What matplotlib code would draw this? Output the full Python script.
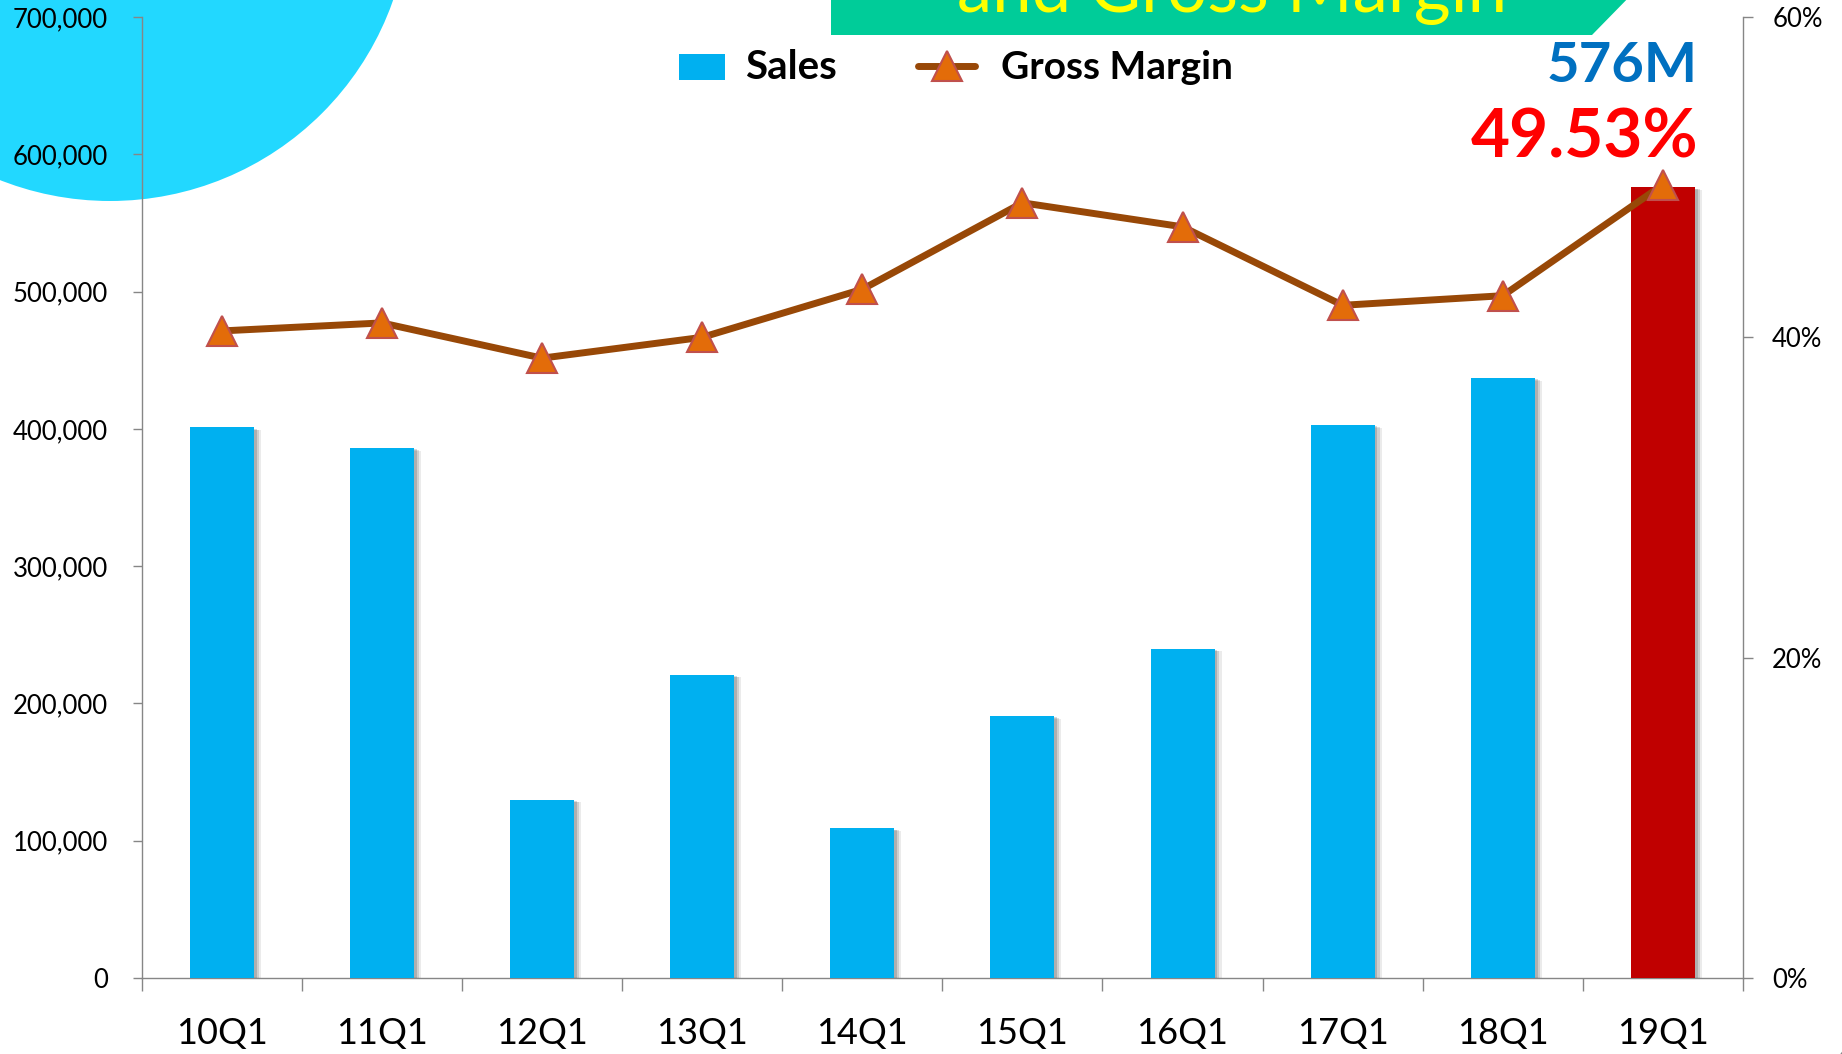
import matplotlib
matplotlib.use("Agg")
import matplotlib.pyplot as plt
from matplotlib.patches import Ellipse, Polygon, Rectangle
from matplotlib.lines import Line2D
import matplotlib.patheffects as pe
from matplotlib.ticker import FuncFormatter, FixedLocator

# ---------------- data ----------------
quarters = ["10Q1", "11Q1", "12Q1", "13Q1", "14Q1", "15Q1", "16Q1", "17Q1", "18Q1", "19Q1"]
sales = [401000, 386000, 130000, 221000, 109000, 191000, 240000, 403000, 437000, 576000]
gross_margin = [40.4, 40.9, 38.7, 40.0, 43.0, 48.4, 46.9, 42.0, 42.6, 49.53]
sales_ticks = [0, 100000, 200000, 300000, 400000, 500000, 600000, 700000]
gm_ticks = [0, 20, 40, 60]
title_text = "and Gross Margin"
legend_labels = ["Sales", "Gross Margin"]
callout_sales = "576M"
callout_gm = "49.53%"

# ---------------- style ----------------
W, H = 1842, 1054
plt.rcParams['font.family'] = ['Lato', 'DejaVu Sans']
BLUE = "#00B0F0"
RED = "#C00000"
LINE = "#984807"
MFACE = "#E36C09"
MEDGE = "#C0504D"
AXC = "#868686"

def fx(x):
    return x / W

def fy(y):
    return 1 - y / H

fig = plt.figure(figsize=(W / 100, H / 100), dpi=100)
fig.patch.set_facecolor("white")

# decorative circle top-left
circ = Ellipse((fx(110), fy(-99)), 2 * 300 / W, 2 * 300 / H, transform=fig.transFigure,
               facecolor="#22D8FF", edgecolor="none", zorder=-5)
fig.add_artist(circ)

ax = fig.add_axes([fx(141.7), fy(978), fx(1743) - fx(141.7), fy(17) - fy(978)])
ax.set_facecolor("none")
ax2 = ax.twinx()
ax2.set_facecolor("none")

x = list(range(len(quarters)))
colors = [BLUE] * (len(quarters) - 1) + [RED]
bars = ax.bar(x, sales, width=0.40, color=colors, zorder=3)
for b in bars:
    b.set_path_effects([
        pe.SimplePatchShadow(offset=(5, -2), shadow_rgbFace="k", alpha=0.08),
        pe.SimplePatchShadow(offset=(3.5, -1.5), shadow_rgbFace="k", alpha=0.12),
        pe.SimplePatchShadow(offset=(2, -1), shadow_rgbFace="k", alpha=0.15),
        pe.Normal()])

ax2.plot(x, gross_margin, color=LINE, lw=5, marker="^", ms=22,
         mfc=MFACE, mec=MEDGE, mew=1.5, zorder=5, solid_joinstyle="miter")

ax.set_xlim(-0.5, 9.5)
ax.set_ylim(0, 700000)
ax2.set_ylim(0, 60)

# spines
for a in (ax, ax2):
    a.spines["top"].set_visible(False)
    for s in ("left", "right", "bottom"):
        a.spines[s].set_color(AXC)
        a.spines[s].set_linewidth(1.0)
ax.spines["right"].set_visible(False)
ax2.spines["left"].set_visible(False)
ax2.spines["bottom"].set_visible(False)

ax.yaxis.set_major_locator(FixedLocator(sales_ticks))
ax.yaxis.set_major_formatter(FuncFormatter(lambda v, p: f"{v:,.0f}"))
ax.tick_params(axis="y", direction="out", length=6.5, width=1.0, color=AXC,
               labelsize=18.5, pad=18, labelcolor="black")

ax2.yaxis.set_major_locator(FixedLocator(gm_ticks))
ax2.yaxis.set_major_formatter(FuncFormatter(lambda v, p: f"{v:.0f}%"))
ax2.tick_params(axis="y", direction="out", length=7, width=1.0, color=AXC,
                labelsize=18.5, pad=14, labelcolor="black")

ax.set_xticks([i - 0.5 for i in range(len(quarters) + 1)])
ax.set_xticklabels([])
ax.set_xticks(x, minor=True)
ax.set_xticklabels(quarters, minor=True)
ax.tick_params(axis="x", which="major", direction="out", length=9.5, width=1.0, color=AXC)
ax.tick_params(axis="x", which="minor", length=0, labelsize=26, pad=28, labelcolor="black")

# title banner (cut off at top)
banner = Polygon([(fx(831), fy(-10)), (fx(1636), fy(-10)), (fx(1592), fy(35)), (fx(831), fy(35))],
                 closed=True, transform=fig.transFigure, facecolor="#00CC99",
                 edgecolor="none", zorder=6)
fig.add_artist(banner)
fig.text(fx(1232), fy(12), title_text, ha="center", va="baseline", fontsize=51,
         color="#FFFF00", zorder=7)

# legend (manual)
fig.add_artist(Rectangle((fx(679), fy(80)), fx(725) - fx(679), fy(54) - fy(80),
                         transform=fig.transFigure, facecolor=BLUE, edgecolor="none", zorder=6))
fig.text(fx(745), fy(79), legend_labels[0], ha="left", va="baseline", fontsize=29,
         fontweight="bold", color="black", zorder=7)
fig.add_artist(Line2D([fx(918), fx(975)], [fy(66), fy(66)], transform=fig.transFigure,
                      color=LINE, lw=5, solid_capstyle="round", zorder=6))
fig.add_artist(Line2D([fx(947)], [fy(66)], transform=fig.transFigure, marker="^", ms=22,
                      mfc=MFACE, mec=MEDGE, mew=1.5, linestyle="none", zorder=7))
fig.text(fx(1001), fy(79), legend_labels[1], ha="left", va="baseline", fontsize=28,
         fontweight="bold", color="black", zorder=7)

# callouts
fig.text(fx(1698), fy(82), callout_sales, ha="right", va="baseline", fontsize=40.5,
         fontweight="bold", color="#0070C0", zorder=7)
fig.text(fx(1698), fy(158), callout_gm, ha="right", va="baseline", fontsize=48.5,
         fontweight="bold", color="#FF0000", zorder=7)

# page number fragment at bottom-right corner
fig.text(fx(1834), fy(1070), "4", ha="left", va="baseline", fontsize=20, color="#888888")

fig.savefig("out.png", dpi=100)
